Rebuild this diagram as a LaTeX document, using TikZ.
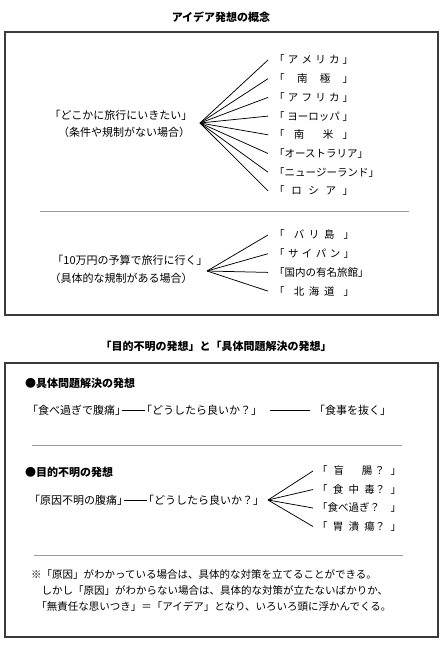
\documentclass[tikz,border=0pt]{standalone}
\usepackage{fontspec}
\setmainfont{Noto Sans CJK JP}
\usetikzlibrary{positioning}
\definecolor{framegray}{HTML}{3A3A3A}
\definecolor{rulegray}{HTML}{9C9C9C}
\newcommand{\wbox}[2]{\makebox[#1][l]{#2}}

\begin{document}
\begin{tikzpicture}[x=1pt, y=-1pt,
    title/.style={font=\fontsize{11}{13}\selectfont\bfseries},
    lbl/.style={font=\fontsize{11}{13}\selectfont, inner sep=0pt},
    phrase/.style={font=\fontsize{11}{13}\selectfont, anchor=west, inner xsep=-4pt, inner ysep=2pt},
    dest/.style={anchor=west, inner xsep=6pt, inner ysep=0pt, font=\fontsize{10.5}{12}\selectfont},
    frame/.style={draw=framegray, line width=1.1pt},
    rule/.style={draw=rulegray, line width=0.7pt},
    fan/.style={draw=black, line width=0.75pt}]
  \useasboundingbox (0,0) rectangle (442,650);

  % --- concept of ideas ---
  \node[title] (t1) at (221,17) {アイデア発想の概念};
  \draw[frame] (5,32) rectangle (438,315);

  \node[lbl] (need1) at (121,115) {「どこかに旅行にいきたい」};
  \node[lbl] (need2) at (124,132) {（条件や規制がない場合）};
  \coordinate (f1) at (200,123);
  \node[dest] (us)  at (268,60)    {\wbox{79pt}{「\hfill ア\hfill メ\hfill リ\hfill カ\hfill 」}};
  \node[dest] (pole) at (268,78.7) {\wbox{79pt}{「\hfill 南\hfill 極\hfill 」}};
  \node[dest] (af)  at (268,97.4)  {\wbox{79pt}{「\hfill ア\hfill フ\hfill リ\hfill カ\hfill 」}};
  \node[dest] (eu)  at (268,116.1) {\wbox{79pt}{「\hfill ヨーロッパ\hfill 」}};
  \node[dest] (sa)  at (268,134.8) {\wbox{79pt}{「\hfill 南\hfill\hfill 米\hfill 」}};
  \node[dest] (au)  at (268,153.5) {「オーストラリア」};
  \node[dest] (nz)  at (268,172.2) {「ニュージーランド」};
  \node[dest] (ru)  at (268,190.9) {\wbox{79pt}{「\hfill ロ\hfill シ\hfill ア\hfill 」}};
  \foreach \n in {us,pole,af,eu,sa,au,nz,ru}
    \draw[fan] (f1) -- (\n.west);

  \draw[rule] (40,211) -- (409,211);

  \node[lbl] (budget1) at (130,260) {「10万円の予算で旅行に行く」};
  \node[lbl] (budget2) at (121,278) {（具体的な規制がある場合）};
  \coordinate (f2) at (207,271);
  \node[dest] (bali) at (268,235)   {\wbox{80pt}{「\hfill\hfill バ\hfill リ\hfill 島\hfill\hfill 」}};
  \node[dest] (saip) at (268,253.7) {\wbox{80pt}{「\hfill サ\hfill イ\hfill パ\hfill ン\hfill 」}};
  \node[dest] (inn)  at (268,272.4) {「国内の有名旅館」};
  \node[dest] (hkd)  at (268,291.1) {\wbox{80pt}{「\hfill\hfill 北\hfill 海\hfill 道\hfill\hfill 」}};
  \foreach \n in {bali,saip,inn,hkd}
    \draw[fan] (f2) -- (\n.west);

  % --- aimless vs. concrete ---
  \node[title] (t2) at (216,346) {「目的不明の発想」と「具体問題解決の発想」};
  \draw[frame] (5,363) rectangle (438,637);

  \node[title, anchor=west, inner sep=0pt] (h1) at (25,383) {●具体問題解決の発想};
  \node[phrase] (p1) at (31,410)  {「食べ過ぎで腹痛」};
  \node[phrase] (p2) at (145,410) {「どうしたら良いか？」};
  \node[phrase] (p3) at (318,410) {「食事を抜く」};
  \draw[fan] (p1) -- (p2);
  \draw[fan, shorten <=12pt, shorten >=8pt] (p2) -- (p3);

  \draw[rule] (32,445) -- (402,445);

  \node[title, anchor=west, inner sep=0pt] (h2) at (25,472) {●目的不明の発想};
  \node[phrase] (q1) at (33,500)  {「原因不明の腹痛」};
  \node[phrase] (q2) at (147,500) {「どうしたら良いか？」};
  \draw[fan] (q1) -- (q2);
  \coordinate (f3) at (268,500);
  \node[dest, inner xsep=4pt] (cec)  at (313,471)   {\wbox{84pt}{「\hfill 盲\hfill\hfill\hfill 腸\,？\hfill 」}};
  \node[dest, inner xsep=4pt] (food) at (313,489.5) {\wbox{84pt}{「\hfill 食\hfill 中\hfill 毒？\hfill 」}};
  \node[dest, inner xsep=4pt] (over) at (313,508)   {\wbox{84pt}{「食べ過ぎ？\hfill 」}};
  \node[dest, inner xsep=4pt] (ulc)  at (313,526.5) {\wbox{84pt}{「\hfill 胃\hfill 潰\hfill 瘍？\hfill 」}};
  \foreach \n in {cec,food,over,ulc}
    \draw[fan] (f3) -- (\n.west);

  \draw[rule] (34,555) -- (403,555);

  \node[anchor=west, align=left, inner sep=0pt, font=\fontsize{10.5}{16}\selectfont] (note) at (31,591)
    {※「原因」がわかっている場合は、具体的な対策を立てることができる。\\
     \hspace*{1em}しかし「原因」がわからない場合は、具体的な対策が立たないばかりか、\\
     \hspace*{0.5em}「無責任な思いつき」＝「アイデア」となり、いろいろ頭に浮かんでくる。};
\end{tikzpicture}
\end{document}
